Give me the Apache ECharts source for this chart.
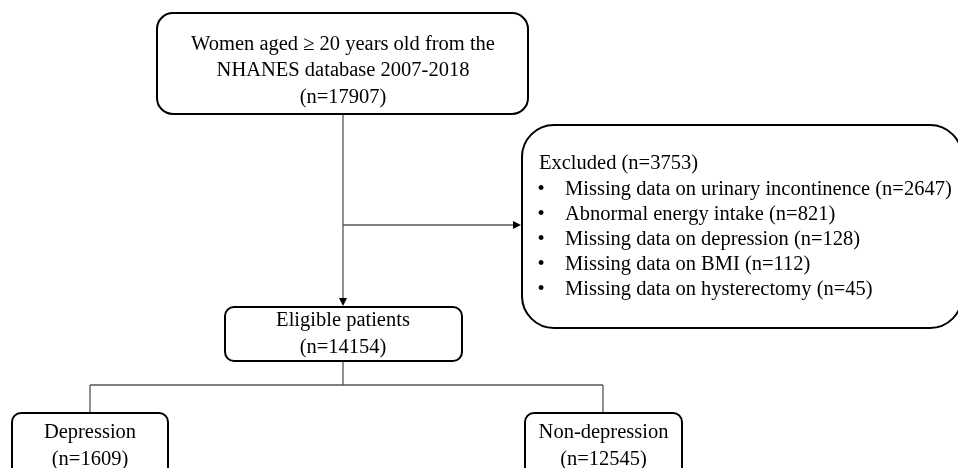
<!DOCTYPE html>
<html>
<head>
<meta charset="utf-8">
<script src="https://cdn.jsdelivr.net/npm/echarts@6/dist/echarts.min.js"></script>
<style>
  html, body { margin: 0; padding: 0; background: #fff; }
  #main { width: 958px; height: 468px; }
</style>
</head>
<body>
<div id="main"></div>
<script>
// flowchart content
var topLines = ['Women aged \u2265 20 years old from the', 'NHANES database 2007-2018']
var totalN = 17907
var excludedN = 3753
var excludedReasons = ['Missing data on urinary incontinence', 'Abnormal energy intake', 'Missing data on depression', 'Missing data on BMI', 'Missing data on hysterectomy']
var excludedCounts = [2647, 821, 128, 112, 45]
var eligibleLabel = 'Eligible patients'
var eligibleN = 14154
var groupNames = ['Depression', 'Non-depression']
var groupCounts = [1609, 12545]

var FONT = '20.5px "Liberation Serif", "Times New Roman", serif'
var lineCol = '#555'

function box(x, y, w, h, r) {
  return { type: 'rect', shape: { x: x, y: y, width: w, height: h, r: r }, style: { fill: '#fff', stroke: '#000', lineWidth: 2 } }
}
function label(cx, cy, txt) {
  return { type: 'text', x: cx, y: cy, style: { text: txt, font: FONT, fill: '#000', align: 'center', verticalAlign: 'middle', lineHeight: 26.5 } }
}
function seg(x1, y1, x2, y2) {
  return { type: 'line', shape: { x1: x1, y1: y1, x2: x2, y2: y2 }, style: { stroke: lineCol, lineWidth: 1.3 } }
}
function arrowDown(x, y) {
  return { type: 'polygon', shape: { points: [[x - 4, y - 8], [x + 4, y - 8], [x, y]] }, style: { fill: '#000' } }
}
function arrowRight(x, y) {
  return { type: 'polygon', shape: { points: [[x - 8, y - 4], [x - 8, y + 4], [x, y]] }, style: { fill: '#000' } }
}

var els = []
// connectors
els.push(seg(343, 114, 343, 298))
els.push(arrowDown(343, 306))
els.push(seg(343, 225, 513, 225))
els.push(arrowRight(521, 225))
els.push(seg(343, 361, 343, 385))
els.push(seg(90, 385, 603, 385))
els.push(seg(90, 385, 90, 413))
els.push(seg(603, 385, 603, 413))

// top box
els.push(box(157, 13, 371, 101, 16))
els.push(label(343, 71, topLines.concat(['(n=' + totalN + ')']).join('\n')))

// excluded box
els.push(box(522, 125, 440, 203, 32))
var exLines = [{ bullet: false, t: 'Excluded (n=' + excludedN + ')' }]
excludedReasons.forEach(function (r, i) {
  exLines.push({ bullet: true, t: r + ' (n=' + excludedCounts[i] + ')' })
})
exLines.forEach(function (l, i) {
  var y = 164 + i * 25.2
  if (l.bullet) {
    els.push({ type: 'text', x: 541, y: y, style: { text: '\u2022', font: FONT, fill: '#000', align: 'center', verticalAlign: 'middle' } })
    els.push({ type: 'text', x: 565, y: y, style: { text: l.t, font: FONT, fill: '#000', align: 'left', verticalAlign: 'middle' } })
  } else {
    els.push({ type: 'text', x: 539, y: y, style: { text: l.t, font: FONT, fill: '#000', align: 'left', verticalAlign: 'middle' } })
  }
})

// eligible box
els.push(box(225, 307, 237, 54, 9))
els.push(label(343, 334, eligibleLabel + '\n(n=' + eligibleN + ')'))

// outcome boxes
var gx = [[12, 156], [525, 157]]
groupNames.forEach(function (g, i) {
  els.push(box(gx[i][0], 413, gx[i][1], 80, 9))
  els.push(label(gx[i][0] + gx[i][1] / 2, 446, g + '\n(n=' + groupCounts[i] + ')'))
})

var chart = echarts.init(document.getElementById('main'))
chart.setOption({
  animation: false,
  backgroundColor: '#fff',
  graphic: { elements: els }
})
</script>
</body>
</html>
